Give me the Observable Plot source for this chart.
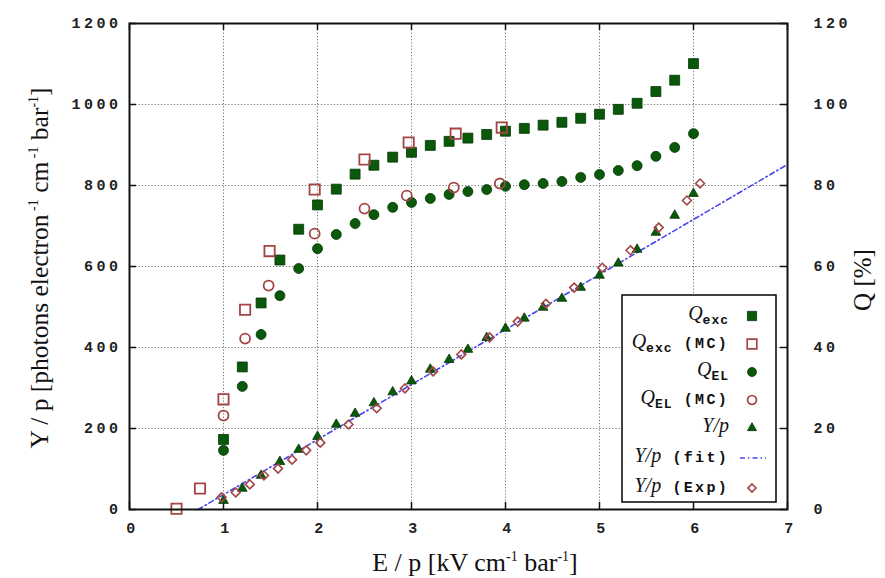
<!DOCTYPE html>
<html><head><meta charset="utf-8">
<script src="https://cdn.jsdelivr.net/npm/d3@7"></script>
<script src="https://cdn.jsdelivr.net/npm/@observablehq/plot@0.6"></script>
<style>body{margin:0;background:#fff} svg{display:block}</style>
</head><body><div id="chart"></div>
<script>
// ---- data ----
const xQ = [1.0,1.2,1.4,1.6,1.8,2.0,2.2,2.4,2.6,2.8,3.0,3.2,3.4,3.6,3.8,4.0,4.2,4.4,4.6,4.8,5.0,5.2,5.4,5.6,5.8,6.0];
const qExc = [17.3,35.2,51.0,61.6,69.2,75.2,79.1,82.8,85.0,87.0,88.2,89.9,90.9,91.7,92.6,93.4,94.1,94.9,95.6,96.6,97.6,98.8,100.3,103.2,106.0,110.1];
const qEL = [14.6,30.4,43.2,52.8,59.5,64.4,67.9,70.6,72.8,74.6,75.8,76.8,77.8,78.5,79.0,79.8,80.2,80.5,81.0,82.0,82.7,83.7,84.9,87.2,89.4,92.8];
const yp = [22,52,84,118,148,180,210,237,263,290,317,346,370,395,424,447,472,499,521,548,578,608,642,684,726,780];
const xQexcMC = [0.5,0.75,1.0,1.23,1.49,1.97,2.5,2.97,3.47,3.96];
const qExcMC = [0.2,5.2,27.2,49.3,63.8,79.0,86.4,90.6,92.8,94.3];
const xQelMC = [1.0,1.23,1.48,1.97,2.5,2.95,3.45,3.94];
const qElMC = [23.2,42.2,55.3,68.1,74.3,77.5,79.5,80.5];
const xExp = [0.98,1.13,1.28,1.43,1.58,1.73,1.88,2.03,2.33,2.63,2.93,3.23,3.53,3.83,4.13,4.43,4.73,5.03,5.33,5.63,5.93,6.07];
const ypExp = [30,42,62,84,101,123,146,165,210,250,299,341,383,425,464,508,548,597,640,696,763,805];
const fitX = [0.73, 7];
const fitY = [0, 852];
const xTicks = [0,1,2,3,4,5,6,7];
const yTicks = [0,200,400,600,800,1000,1200];
const qTickLabels = [0,20,40,60,80,100,120];

// ---- style ----
const W = 885, H = 578, mL = 129, mR = 98, mT = 23, mB = 69;
const pw = W - mL - mR, ph = H - mT - mB;
const GREEN = "#0a590a", GREEN_EDGE = "#053605", RED = "#a34545", BLUE = "#4646ee";
const tickFont = "'Liberation Mono', 'DejaVu Sans Mono', monospace";
const serif = "'Liberation Serif', 'DejaVu Serif', serif";

const rows = (xs, ys, k = 1) => xs.map((x, i) => ({x, y: ys[i] * k}));
const dExc = rows(xQ, qExc, 10), dEL = rows(xQ, qEL, 10), dYp = rows(xQ, yp);
const dExcMC = rows(xQexcMC, qExcMC, 10), dElMC = rows(xQelMC, qElMC, 10);
const dExp = rows(xExp, ypExp), dFit = rows(fitX, fitY);

const svg = Plot.plot({
  width: W, height: H,
  marginLeft: mL, marginRight: mR, marginTop: mT, marginBottom: mB,
  x: {domain: [0, 7]},
  y: {domain: [0, 1200]},
  style: {background: "white", color: "#111"},
  marks: [
    Plot.gridX(xTicks.slice(1, -1), {stroke: "#444", strokeOpacity: 0.75, strokeDasharray: "1.2,2"}),
    Plot.gridY(yTicks.slice(1, -1), {stroke: "#444", strokeOpacity: 0.75, strokeDasharray: "1.2,2"}),
    Plot.tickY(yTicks, {y: d => d, insetRight: pw - 7, stroke: "#111", strokeWidth: 1.5}),
    Plot.tickY(yTicks, {y: d => d, insetLeft: pw - 7, stroke: "#111", strokeWidth: 1.5}),
    Plot.tickX(xTicks, {x: d => d, insetTop: ph - 7, stroke: "#111", strokeWidth: 1.5}),
    Plot.tickX(xTicks, {x: d => d, insetBottom: ph - 7, stroke: "#111", strokeWidth: 1.5}),
    Plot.axisY(yTicks, {anchor: "left", tickSize: 0, tickPadding: 8, label: null, tickFormat: d => String(d), fontSize: 15, fontWeight: "bold", fontFamily: tickFont}),
    Plot.axisY(yTicks, {anchor: "right", tickSize: 0, tickPadding: 26, label: null, tickFormat: (d) => String(qTickLabels[yTicks.indexOf(d)]), fontSize: 15, fontWeight: "bold", fontFamily: tickFont}),
    Plot.axisX(xTicks, {anchor: "bottom", tickSize: 0, tickPadding: 13, label: null, tickFormat: d => String(d), fontSize: 15, fontWeight: "bold", fontFamily: tickFont, dx: 3}),
    Plot.line(dFit, {x: "x", y: "y", stroke: BLUE, strokeWidth: 1.6, strokeDasharray: "5,3,1.5,3"}),
    Plot.dot(dExc, {x: "x", y: "y", symbol: "square", r: 5.6, fill: GREEN, stroke: GREEN_EDGE, strokeWidth: 0.8}),
    Plot.dot(dEL, {x: "x", y: "y", symbol: "circle", r: 5, fill: GREEN, stroke: GREEN_EDGE, strokeWidth: 0.8}),
    Plot.dot(dYp, {x: "x", y: "y", symbol: "triangle", r: 3.6, fill: GREEN, stroke: GREEN_EDGE, strokeWidth: 0.8}),
    Plot.dot(dExcMC, {x: "x", y: "y", symbol: "square", r: 5.8, fill: "none", stroke: RED, strokeWidth: 1.8}),
    Plot.dot(dElMC, {x: "x", y: "y", symbol: "circle", r: 5, fill: "none", stroke: RED, strokeWidth: 1.8}),
    Plot.dot(dExp, {x: "x", y: "y", symbol: "diamond2", r: 4.0, fill: "none", stroke: RED, strokeWidth: 1.6}),
    Plot.frame({stroke: "#111", strokeWidth: 2})
  ]
});

const s = d3.select(svg);
s.selectAll("[aria-label$='tick label'] text").attr("letter-spacing", "3.5px").attr("fill", "#222");

// axis titles (with superscripts)
function richText(t, parts, supSize, shift) {
  let up = false;
  parts.forEach(([txt, isSup]) => {
    const sp = t.append("tspan").text(txt);
    if (isSup) { sp.attr("dy", -shift).attr("font-size", supSize); up = true; }
    else if (up) { sp.attr("dy", shift); up = false; }
  });
}
const yt = s.append("text").attr("transform", "translate(48,268) rotate(-90)")
  .attr("text-anchor", "middle").attr("font-family", serif).attr("font-size", 25.5).attr("fill", "#111");
richText(yt, [["Y / p [photons electron", false], [" -1", true], [" cm", false], [" -1", true], [" bar", false], ["-1", true], ["]", false]], 14, 10);
const xt = s.append("text").attr("x", 475).attr("y", 571)
  .attr("text-anchor", "middle").attr("font-family", serif).attr("font-size", 26).attr("fill", "#111");
richText(xt, [["E / p [kV cm", false], ["-1", true], [" bar", false], ["-1", true], ["]", false]], 14, 10);
s.append("text").attr("transform", "translate(871,280) rotate(-90)")
  .attr("text-anchor", "middle").attr("font-family", serif).attr("font-size", 25).attr("fill", "#111").text("Q [%]");

// legend
const legend = [
  {main: "Q", sub: "exc", extra: "", sym: d3.symbolSquare, r: 5.2, filled: true},
  {main: "Q", sub: "exc", extra: " (MC)", sym: d3.symbolSquare, r: 5.4, filled: false},
  {main: "Q", sub: "EL", extra: "", sym: d3.symbolCircle, r: 4.5, filled: true},
  {main: "Q", sub: "EL", extra: " (MC)", sym: d3.symbolCircle, r: 4.5, filled: false},
  {main: "Y/p", sub: "", extra: "", sym: d3.symbolTriangle, r: 3.4, filled: true},
  {main: "Y/p", sub: "", extra: " (fit)", sym: null},
  {main: "Y/p", sub: "", extra: " (Exp)", sym: d3.symbolDiamond2, r: 3.6, filled: false}
];
const rowY = [316, 344, 372, 400, 428, 458, 488];
const lg = s.append("g");
lg.append("rect").attr("x", 622).attr("y", 295).attr("width", 154).attr("height", 207)
  .attr("fill", "white").attr("stroke", "#111").attr("stroke-width", 1.6);
legend.forEach((e, i) => {
  const y = rowY[i];
  const t = lg.append("text").attr("x", 729).attr("y", y + 4).attr("text-anchor", "end").attr("fill", "#111");
  t.append("tspan").attr("font-family", serif).attr("font-style", "italic").attr("font-size", 20).text(e.main);
  let shifted = false;
  if (e.sub) { t.append("tspan").attr("dy", 4).attr("font-family", tickFont).attr("font-weight", "bold").attr("font-size", 13).attr("letter-spacing", "1px").text(e.sub); shifted = true; }
  if (e.extra) { t.append("tspan").attr("dy", shifted ? -4 : 0).attr("font-family", tickFont).attr("font-weight", "bold").attr("font-size", 15).attr("letter-spacing", "2.3px").style("white-space", "pre").text(e.extra); }
  if (e.sym) {
    const path = d3.symbol(e.sym, Math.PI * e.r * e.r)();
    lg.append("path").attr("d", path).attr("transform", `translate(752,${y})`)
      .attr("fill", e.filled ? GREEN : "none").attr("stroke", e.filled ? GREEN_EDGE : RED)
      .attr("stroke-width", e.filled ? 0.8 : 1.7);
  } else {
    lg.append("line").attr("x1", 740).attr("x2", 766).attr("y1", y).attr("y2", y)
      .attr("stroke", BLUE).attr("stroke-width", 1.6).attr("stroke-dasharray", "5,3,1.5,3");
  }
});

document.getElementById("chart").append(svg);
</script>
</body></html>
